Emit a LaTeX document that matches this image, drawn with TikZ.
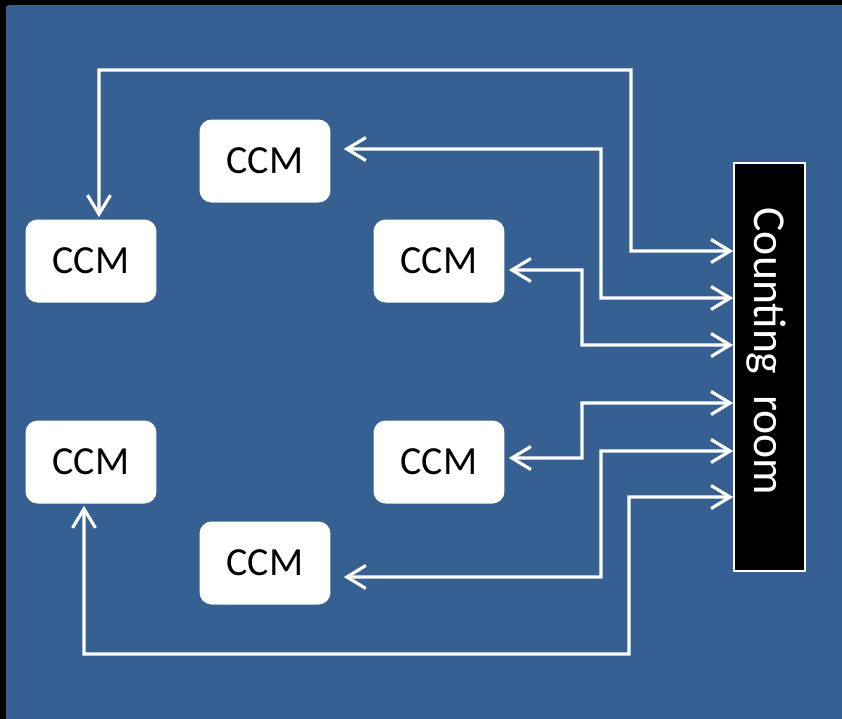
\documentclass[tikz,border=0pt]{standalone}
\usepackage{fontspec}
\setmainfont{Carlito}
\usetikzlibrary{arrows.meta}
\definecolor{slideblue}{RGB}{54,96,145}
\begin{document}
\begin{tikzpicture}[x=0.02cm,y=-0.02cm,
  ccm/.style={draw=none,fill=white,rounded corners=0.24cm,minimum width=2.62cm,
    minimum height=1.66cm,inner sep=0pt,font=\fontsize{22.7}{26}\selectfont,text=black},
  roombox/.style={draw=white,line width=1pt,fill=black,minimum width=1.42cm,
    minimum height=8.16cm,inner sep=0pt},
  link/.style={draw=white,line width=1.8pt,line join=miter,
    {Straight Barb[length=0.38cm,width=0.46cm]}-{Straight Barb[length=0.38cm,width=0.46cm]}}]
  \useasboundingbox (0,0) rectangle (842,718);
  % slide background, bled past the page edges on the right and bottom
  \fill[black] (0,0) rectangle (852,728);
  \fill[slideblue] (6,728) [rounded corners=0.06cm] -- (6,5) [sharp corners] -- (852,5) -- (852,728) -- cycle;
  % modules
  \node[ccm] (a) at (265,161) {CCM};
  \node[ccm] (b) at (91,261) {CCM};
  \node[ccm] (c) at (439,261) {CCM};
  \node[ccm] (d) at (91,462) {CCM};
  \node[ccm] (e) at (439,462) {CCM};
  \node[ccm] (f) at (265,563) {CCM};
  \node[roombox] (room) at (769.5,367) {};
  \node[text=white,rotate=-90,font=\fontsize{26}{30}\selectfont] (roomlabel)
    at ([xshift=-0.06cm,yshift=0.31cm]room.center) {Counting\hspace{0.42cm}room};
  % cabling between modules and counting room
  \draw[link] (room.west |- 0,251) -- (631,251) -- (631,70) -- (99,70) -- ([xshift=0.16cm,yshift=0.04cm]b.north);
  \draw[link] (room.west |- 0,298) -- (601,298) -- (601,149) -- ([xshift=0.26cm,yshift=0.24cm]a.east);
  \draw[link] (room.west |- 0,345) -- (582,345) -- (582,270) -- ([xshift=0.08cm,yshift=-0.18cm]c.east);
  \draw[link] (room.west |- 0,403) -- (582,403) -- (582,458) -- ([xshift=0.08cm,yshift=0.08cm]e.east);
  \draw[link] (room.west |- 0,451) -- (601,451) -- (601,577) -- ([xshift=0.26cm,yshift=-0.28cm]f.east);
  \draw[link] (room.west |- 0,497) -- (629,497) -- (629,654) -- (84,654) -- ([xshift=-0.14cm,yshift=-0.04cm]d.south);
\end{tikzpicture}
\end{document}
